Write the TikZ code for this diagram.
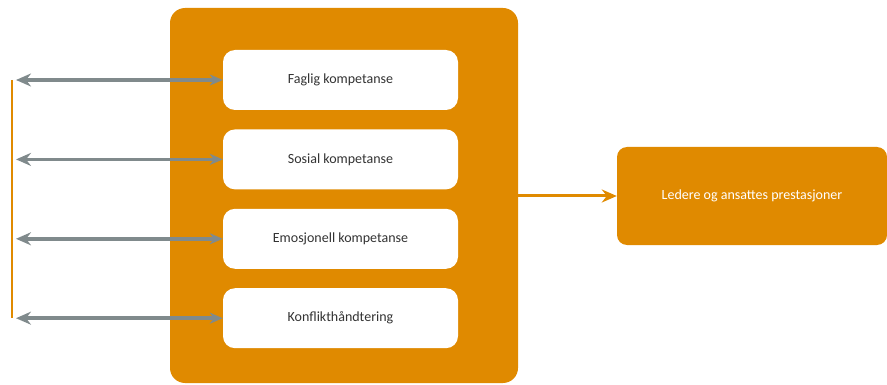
\documentclass[tikz,border=0pt]{standalone}
\usepackage{fontspec}
\setmainfont{Carlito}
\usetikzlibrary{positioning,arrows.meta}
\tikzstyle{diagram} = [x = 1pt, y = -1pt]
\definecolor{frameOrange}{RGB}{224,138,0}
\definecolor{arrowGray}{RGB}{128,138,140}
\tikzstyle{frameStyle} = [fill=frameOrange, rounded corners = 15pt, minimum width = 348pt, minimum height = 375pt]
\tikzstyle{skillBox} = [fill=white, rounded corners = 12pt, minimum width = 235pt, minimum height = 60pt, text=black!80, font=\fontsize{14}{16}\selectfont]
\tikzstyle{resultBox} = [fill=frameOrange, rounded corners = 10pt, minimum width = 270pt, minimum height = 98pt, text=white, font=\fontsize{14}{16}\selectfont]
\tikzstyle{feedbackArrow} = [draw=arrowGray, line width = 3.5pt, {Stealth[length=15pt, width=13pt, inset=5pt]}-{Stealth[length=13pt, width=11pt, inset=4pt]}]
\tikzstyle{resultArrow} = [draw=frameOrange, line width = 3pt, -{Stealth[length=15pt, width=13pt, inset=5pt]}]
\tikzstyle{spineLine} = [draw=frameOrange, line width = 2.5pt]

\begin{document}
\begin{tikzpicture}[diagram]
        \useasboundingbox (0,0) rectangle (887,385);
        \node [frameStyle] (frame) at (344,195.5) {};
        \node [skillBox] (skill1) at (340.5,80) {Faglig kompetanse};
        \node [skillBox, below = 19pt of skill1] (skill2) {Sosial kompetanse};
        \node [skillBox, below = 19pt of skill2] (skill3) {Emosjonell kompetanse};
        \node [skillBox, below = 19pt of skill3] (skill4) {Konflikthåndtering};
        \node [resultBox] (result) at (752,196) {Ledere og ansattes prestasjoner};

        \coordinate (spine) at (12,0);
        \coordinate (leftEdge) at (16,0);
        \draw [spineLine] (skill1.west -| spine) -- (skill4.west -| spine);
        \foreach \i in {1,...,4} {
          \draw [feedbackArrow] (skill\i.west -| leftEdge) -- (skill\i.west);
        }
        \draw [resultArrow] (frame.east |- result.west) -- (result.west);
      \end{tikzpicture}
\end{document}
